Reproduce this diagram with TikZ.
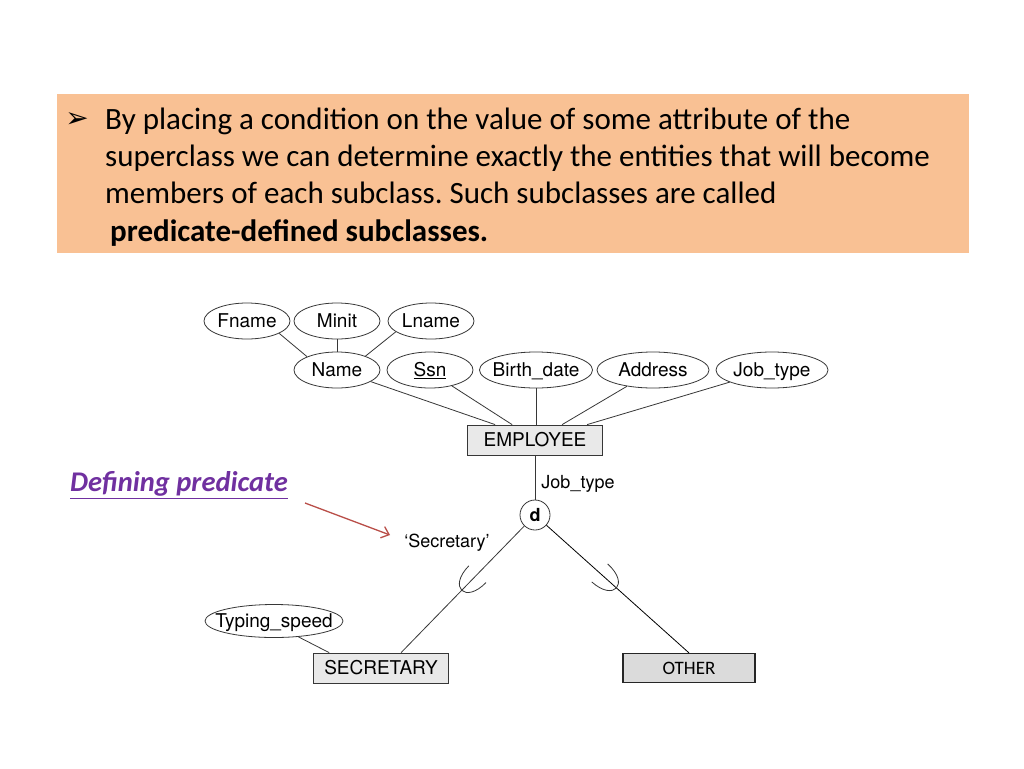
\documentclass[tikz,border=0pt]{standalone}
\usepackage{fontspec}
\setmainfont{Carlito}
\newfontfamily\erfont{TeX Gyre Heros}
\newfontfamily\symfont{DejaVu Sans}
\usetikzlibrary{shapes.geometric,calc,arrows.meta}
\frenchspacing

\definecolor{slideorange}{RGB}{249,193,148}
\definecolor{predpurple}{RGB}{112,48,160}
\definecolor{arrowred}{RGB}{185,78,72}
\definecolor{erline}{RGB}{55,55,55}

\begin{document}
\begin{tikzpicture}[x=1pt, y=-1pt,
    slidetext/.style={anchor=base west, inner sep=0pt, font=\fontsize{31}{36}\selectfont},
    attr/.style={ellipse, draw=erline, line width=0.8pt, minimum width=#1, minimum height=36pt,
        inner xsep=-20pt, inner ysep=0pt, text height=17.5pt, text depth=4pt,
        font=\erfont\fontsize{19}{20}\selectfont},
    attr/.default=86pt,
    entity/.style={draw=erline, fill=gray!17, line width=0.8pt, minimum width=135pt,
        minimum height=30pt, inner sep=0pt, text height=16.5pt, text depth=3pt,
        font=\erfont\fontsize{19}{20}\selectfont},
    link/.style={draw=erline, line width=0.8pt},
    erlabel/.style={inner sep=0pt, font=\erfont\fontsize{18}{20}\selectfont}]

    % Page and margins
    \fill[white] (0,0) rectangle (1024,768);
    \useasboundingbox (0,0) rectangle (1024,768);

    % Orange text panel
    \fill[slideorange] (57,94) rectangle (969,253);
    \node[inner sep=0pt, font=\symfont\fontsize{28}{30}\selectfont] (bullet) at (77,120) {➢};
    \node[slidetext] (line1) at (105,129) {By placing a condition on the value of some attribute of the};
    \node[slidetext] (line2) at (105,166) {superclass we can determine exactly the entities that will become};
    \node[slidetext] (line3) at (105,203) {members of each subclass. Such subclasses are called};
    \node[slidetext, font=\bfseries\fontsize{31}{36}\selectfont] (line4) at (110,241) {predicate-defined subclasses.};

    % Attributes of the superclass
    \node[attr] (fname) at (247,321) {Fname};
    \node[attr] (minit) at (337,321) {Minit};
    \node[attr] (lname) at (431,321) {Lname};
    \node[attr] (name) at (337,370) {Name};
    \node[attr] (ssn) at (430,370) {\underline{Ssn}};
    \node[attr=113pt] (bdate) at (536,370) {Birth\_date};
    \node[attr=112pt] (address) at (653,370) {Address};
    \node[attr=112pt] (jobtype) at (772,370) {Job\_type};

    % Superclass
    \node[entity] (employee) at (535,440) {EMPLOYEE};

    % Composite attribute Name
    \draw[link] (fname.-21) -- (name.156);
    \draw[link] (minit.south) -- (name.north);
    \draw[link] (lname.197) -- (name.26);

    % Attributes to EMPLOYEE
    \draw[link] (name.-19) -- ([xshift=28pt]employee.north west);
    \draw[link] (ssn.-36) -- ([xshift=45pt]employee.north west);
    \draw[link] (bdate.south) -- (bdate.south |- employee.north);
    \draw[link] (address.212) -- ([xshift=95pt]employee.north west);
    \draw[link] (jobtype.196) -- ([xshift=120pt]employee.north west);

    % Disjointness circle and defining attribute
    \node[draw=erline, circle, line width=0.8pt, minimum size=30pt, inner sep=0pt,
        font=\erfont\bfseries\fontsize{18}{20}\selectfont] (d) at (535,515) {d};
    \node[erlabel] (jtlabel) at (578,484) {Job\_type};
    \draw[link] (employee.south) -- (d.north);

    % Subclasses
    \node[attr=138pt, minimum height=33pt] (typing) at (274,621) {Typing\_speed};
    \node[entity] (secretary) at (381,668) {SECRETARY};
    \node[entity, fill=gray!28, draw=black!85, line width=1.2pt, minimum width=132pt,
        minimum height=29pt, font=\fontsize{19}{20}\selectfont] (other) at (689,668) {OTHER};
    \node[erlabel] (seclabel) at (447,543) {‘Secretary’};
    \draw[link] (typing.-33) -- ([xshift=16pt]secretary.north west);

    \coordinate (secend) at ([xshift=88pt]secretary.north west);
    \coordinate (otherend) at (other.north);
    \draw[link] (d) -- (secend);
    \draw[link, draw=black] (d) -- (otherend);

    % Subset marks, open side toward the circle
    \foreach \sub/\tpos in {secend/0.43, otherend/0.42} {
        \coordinate (mid) at ($(d)!\tpos!(\sub)$);
        \coordinate (tipA) at ($(mid)!12pt!90:(d)$);
        \coordinate (tipB) at ($(mid)!12pt!-90:(d)$);
        \coordinate (deep) at ($(mid)!-30pt!(d)$);
        \draw[link] (tipA) .. controls ($(tipA)+(deep)-(mid)$) and ($(tipB)+(deep)-(mid)$) .. (tipB);
    }

    % Pointer to the defining predicate
    \node[inner sep=0pt, text=predpurple, font=\bfseries\itshape\fontsize{28.5}{30}\selectfont] (defpred)
        at (179,485) {\underline{Defining predicate}};
    \coordinate (arrowtail) at (305,503);
    \coordinate (arrowhead) at (390,535);
    \draw[-{Straight Barb[length=7pt, width=12pt]}, arrowred, line width=1.3pt] (arrowtail) -- (arrowhead);

\end{tikzpicture}
\end{document}
